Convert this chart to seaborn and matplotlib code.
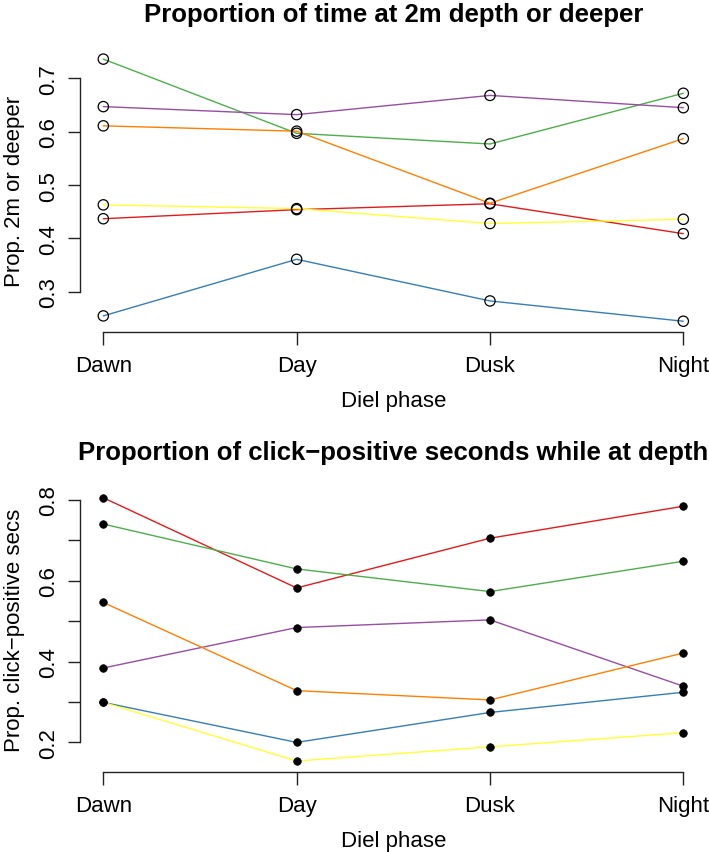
import matplotlib
matplotlib.use("Agg")
import matplotlib.pyplot as plt
import seaborn as sns
import pandas as pd

# Diel phases on the x axis
phases = ["Dawn", "Day", "Dusk", "Night"]

# Series colours (RColorBrewer Set1 order)
series = ["red", "blue", "green", "purple", "orange", "yellow"]
colors = ["#E41A1C", "#377EB8", "#4DAF4A", "#984EA3", "#FF7F00", "#FFFF33"]

# Proportion of time at 2m depth or deeper
depth_red = [0.437, 0.454, 0.465, 0.409]
depth_blue = [0.255, 0.361, 0.283, 0.245]
depth_green = [0.736, 0.597, 0.577, 0.672]
depth_purple = [0.647, 0.632, 0.668, 0.645]
depth_orange = [0.611, 0.601, 0.466, 0.587]
depth_yellow = [0.463, 0.456, 0.428, 0.436]

# Proportion of click-positive seconds while at depth
click_red = [0.805, 0.582, 0.705, 0.784]
click_blue = [0.299, 0.200, 0.274, 0.324]
click_green = [0.740, 0.629, 0.573, 0.648]
click_purple = [0.384, 0.484, 0.503, 0.339]
click_orange = [0.546, 0.328, 0.305, 0.421]
click_yellow = [0.299, 0.154, 0.189, 0.224]

depth = [depth_red, depth_blue, depth_green, depth_purple, depth_orange, depth_yellow]
click = [click_red, click_blue, click_green, click_purple, click_orange, click_yellow]


def to_long(values):
    rows = []
    for name, vals in zip(series, values):
        for ph, v in zip(phases, vals):
            rows.append({"series": name, "phase": ph, "value": v})
    return pd.DataFrame(rows)


df_depth = to_long(depth)
df_click = to_long(click)

sns.set_style("ticks")
plt.rcParams["font.family"] = ["Liberation Sans", "DejaVu Sans"]
plt.rcParams["text.color"] = "black"
plt.rcParams["axes.labelcolor"] = "black"
plt.rcParams["xtick.color"] = "black"
plt.rcParams["ytick.color"] = "black"

fig = plt.figure(figsize=(7.09, 8.54), dpi=100)
ax1 = fig.add_axes([0.113, 0.6104, 0.8835, 0.3315])
ax2 = fig.add_axes([0.113, 0.0954, 0.8835, 0.3329])

palette = dict(zip(series, colors))


def draw(ax, df, filled, ticks, title, ylabel):
    sns.lineplot(data=df, x="phase", y="value", hue="series", palette=palette,
                 legend=False, lw=1.0, ax=ax, sort=False)
    if filled:
        sns.scatterplot(data=df, x="phase", y="value", color="black", s=30,
                        edgecolor="black", linewidth=0.5, ax=ax, zorder=5)
    else:
        sns.scatterplot(data=df, x="phase", y="value", s=55, facecolor="none",
                        edgecolor="black", linewidth=0.9, ax=ax, zorder=5)
    lo, hi = df["value"].min(), df["value"].max()
    pad = (hi - lo) * 0.04
    ax.set_ylim(lo - pad, hi + pad)
    ax.set_xlim(-0.12, 3.12)
    ax.set_xticks(range(4))
    ax.set_xticklabels(phases)
    ax.set_yticks(ticks)
    ax.set_yticklabels([f"{t:.1f}" for t in ticks], rotation=90, va="center")
    for s in ["top", "right"]:
        ax.spines[s].set_visible(False)
    ax.spines["left"].set_bounds(ticks[0], ticks[-1])
    ax.spines["bottom"].set_bounds(0, 3)
    for s in ["left", "bottom"]:
        ax.spines[s].set_color("#222222")
        ax.spines[s].set_linewidth(1.0)
    ax.tick_params(axis="both", length=9, width=1.0, color="#222222",
                   labelsize=16, labelcolor="black")
    ax.tick_params(axis="x", pad=8)
    ax.tick_params(axis="y", pad=6)
    ax.set_xlabel("Diel phase", fontsize=16, labelpad=10)
    ax.set_ylabel(ylabel, fontsize=16)
    ax.yaxis.set_label_coords(-0.088, 0.5)
    ax.set_title(title, fontsize=18.5, fontweight="bold", pad=20)
    ax.grid(False)


draw(ax1, df_depth, False, [0.3, 0.4, 0.5, 0.6, 0.7],
     "Proportion of time at 2m depth or deeper", "Prop. 2m or deeper")
draw(ax2, df_click, True, [0.2, 0.3, 0.4, 0.5, 0.6, 0.7, 0.8],
     "Proportion of click\u2212positive seconds while at depth",
     "Prop. click\u2212positive secs")
ax2.set_yticklabels(["0.2", "", "0.4", "", "0.6", "", "0.8"], rotation=90, va="center")

fig.savefig("out.png", dpi=100)
